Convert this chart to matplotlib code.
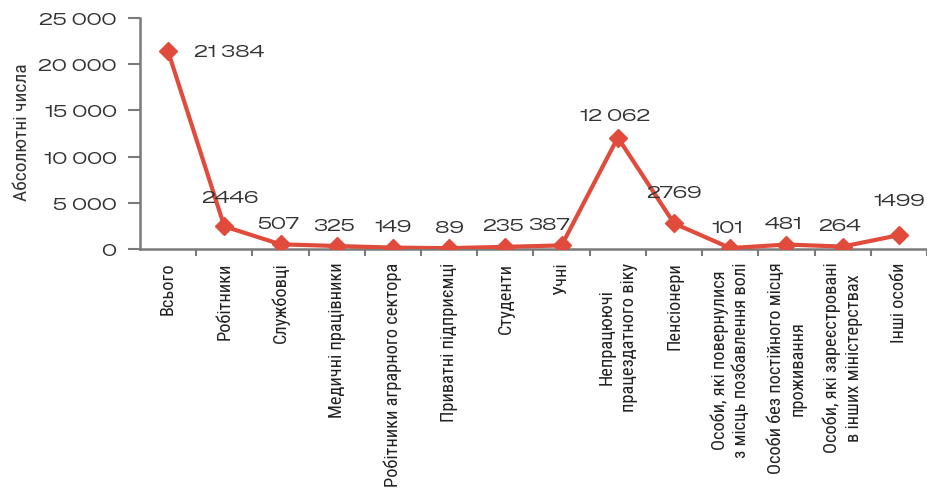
import matplotlib
matplotlib.use("Agg")
import matplotlib.pyplot as plt
from matplotlib.ticker import FuncFormatter, FixedLocator, NullFormatter

categories = [
    "Всього", "Робітники", "Службовці", "Медичні працівники",
    "Робітники аграрного сектора", "Приватні підприємці", "Студенти", "Учні",
    "Непрацюючі\nпрацездатного віку", "Пенсіонери",
    "Особи, які повернулися\nз місць позбавлення волі",
    "Особи без постійного місця\nпроживання",
    "Особи, які зареєстровані\nв інших міністерствах", "Інші особи",
]
values = [21384, 2446, 507, 325, 149, 89, 235, 387, 12062, 2769, 101, 481, 264, 1499]
value_labels = ["21 384", "2446", "507", "325", "149", "89", "235", "387",
                "12 062", "2769", "101", "481", "264", "1499"]
y_ticks = [0, 5000, 10000, 15000, 20000, 25000]
y_label = "Абсолютні числа"

label_offsets = [(19, 0), (4, 21), (-2, 15), (-2, 15), (0, 15), (0, 15), (-2, 15),
                 (-9, 15), (-2, 16), (0, 22), (-2, 15), (-2, 15), (-2, 15), (0, 25)]
label_ha = ["left"] + ["center"] * 13

narrow = ["Roboto Condensed", "DejaVu Sans"]
wide = ["Zalando Sans Expanded", "Open Sans", "DejaVu Sans"]

fig = plt.figure(figsize=(9.28, 4.89), dpi=100)
ax = fig.add_axes([140 / 928, 239 / 489, 787 / 928, 231 / 489])

red = "#e14b3b"
gray = "#7a7a7a"
text_col = "#333333"
x = list(range(len(categories)))
ax.plot(x, values, color=red, lw=3.0, marker="D", markersize=9, zorder=3,
        solid_joinstyle="round")

for xi, v, lab, off, ha in zip(x, values, value_labels, label_offsets, label_ha):
    ax.annotate(lab, (xi, v), xytext=off, textcoords="offset points",
                ha=ha, va="center", fontsize=12.5, color=text_col, family=wide)

ax.set_xlim(-0.5, len(categories) - 0.5)
ax.set_ylim(0, 25000)
ax.set_yticks(y_ticks)
ax.yaxis.set_major_formatter(FuncFormatter(lambda v, p: f"{int(v):,}".replace(",", " ")))
for t in ax.get_yticklabels():
    t.set_family(wide)
    t.set_fontsize(12.5)
    t.set_color(text_col)

ax.set_xticks(x)
ax.set_xticklabels(categories, rotation=90, va="top", ha="center",
                   family=narrow, fontsize=13.2, color="#222222", linespacing=1.25)
ax.xaxis.set_minor_locator(FixedLocator([i + 0.5 for i in x]))
ax.xaxis.set_minor_formatter(NullFormatter())
ax.tick_params(axis="x", which="major", length=0, pad=9)
ax.tick_params(axis="x", which="minor", length=5, width=1.5, color=gray, direction="out")
ax.tick_params(axis="y", length=9, width=1.5, color=gray, pad=8)

for s in ["top", "right"]:
    ax.spines[s].set_visible(False)
for s in ["left", "bottom"]:
    ax.spines[s].set_color(gray)
    ax.spines[s].set_linewidth(1.8)

fig.text(22 / 928, 1 - 132 / 489, y_label, rotation=90, ha="center", va="center",
         family=narrow, fontsize=14, color=text_col)

fig.savefig("out.png", dpi=100)
